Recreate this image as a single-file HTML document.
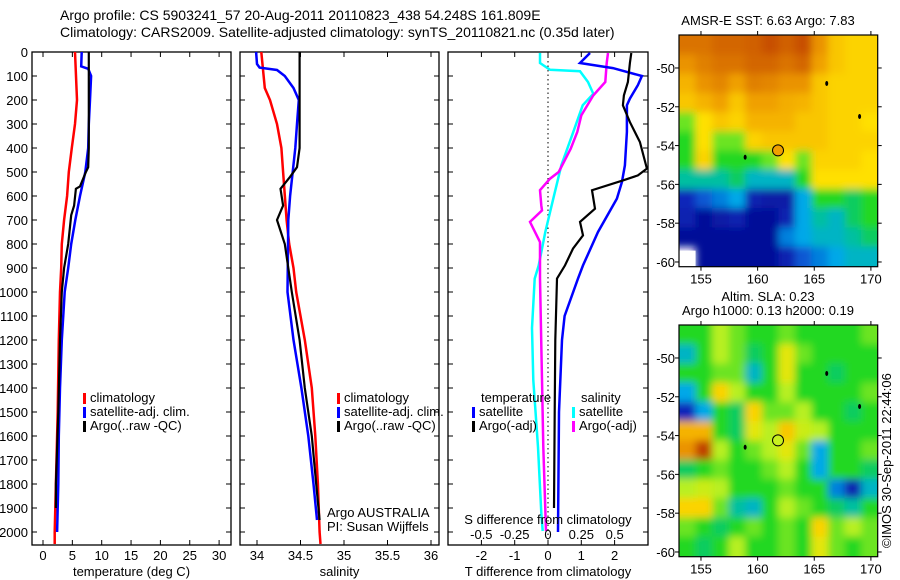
<!DOCTYPE html>
<html><head><meta charset="utf-8"><style>
html,body{margin:0;padding:0;background:#fff;}
svg{display:block;font-family:"Liberation Sans",sans-serif;}
text{font-size:13px;fill:#000;}
</style></head><body>
<svg id="fig" width="900" height="580" viewBox="0 0 900 580">
<defs>
<filter id="blur" x="-5%" y="-5%" width="110%" height="110%"><feGaussianBlur stdDeviation="4"/></filter>
<clipPath id="clipTop"><rect x="679" y="35" width="198.7" height="231.7"/></clipPath>
<clipPath id="clipBot"><rect x="679" y="325" width="198.7" height="231.7"/></clipPath>
</defs>
<text x="60" y="20" style="font-size:14px">Argo profile: CS 5903241_57 20-Aug-2011 20110823_438 54.248S 161.809E</text>
<text x="60" y="37" style="font-size:14px">Climatology: CARS2009. Satellite-adjusted climatology: synTS_20110821.nc (0.35d later)</text>
<text x="768" y="25" text-anchor="middle">AMSR-E SST: 6.63 Argo: 7.83</text>
<text x="768" y="301" text-anchor="middle">Altim. SLA: 0.23</text>
<text x="768" y="315" text-anchor="middle">Argo h1000: 0.13 h2000: 0.19</text>
<text transform="translate(891,548) rotate(-90)">©IMOS 30-Sep-2011 22:44:06</text>
<g id="g"></g>
</svg>
<script>
// ---- data ----
const depthTicks=[0,100,200,300,400,500,600,700,800,900,1000,1100,1200,1300,1400,1500,1600,1700,1800,1900,2000];
const tTicks=[0,5,10,15,20,25,30];
const sTicks=[34,34.5,35,35.5,36];
const dTTicks=[-2,-1,0,1,2];
const dSTicks=[-0.5,-0.25,0,0.25,0.5];
const dSTickLabels=["-0.5","-0.25","0","0.25","0.5"];
// temperature profiles
const tClimDepth=[0,200,300,400,500,600,700,800,900,1000,1200,1500,1800,2000,2050];
const tClimVal=[5.45,5.8,5.45,4.9,4.4,4.1,3.6,3.2,3.1,2.9,2.7,2.5,2.2,2.0,2.0];
const tSatDepth=[0,60,70,100,200,300,400,500,600,700,800,900,1000,1200,1400,1600,1800,2000];
const tSatVal=[6.6,6.5,7.7,8.2,8.0,7.8,7.7,7.2,6.3,5.5,4.8,4.3,3.7,3.2,2.9,2.7,2.6,2.4];
const tArgoDepth=[0,100,300,400,480,500,560,570,640,680,800,900,1000,1200,1500,1800,1900];
const tArgoVal=[7.8,7.8,7.8,7.8,7.7,7.3,6.3,5.6,5.3,4.8,4.3,3.6,3.2,2.9,2.6,2.2,2.2];
// salinity profiles
const sClimDepth=[0,150,200,300,400,500,700,800,900,1000,1200,1400,1600,1800,2000,2050];
const sClimVal=[34.05,34.09,34.15,34.23,34.28,34.30,34.34,34.37,34.42,34.45,34.55,34.63,34.67,34.70,34.72,34.73];
const sSatDepth=[0,50,65,75,100,150,200,300,400,500,600,700,1000,1200,1400,1600,1800,1950];
const sSatVal=[33.99,34.0,34.03,34.23,34.32,34.42,34.48,34.46,34.44,34.41,34.38,34.36,34.35,34.42,34.51,34.59,34.65,34.69];
const sArgoDepth=[0,400,480,520,570,640,700,800,1000,1200,1400,1600,1800,1950];
const sArgoVal=[34.49,34.49,34.46,34.38,34.27,34.30,34.23,34.32,34.40,34.49,34.55,34.63,34.68,34.72];
// differences
const dTSatDepth=[4,46,67,100,138,194,222,333,472,542,611,750,889,944,1100,1200,1500,2000];
const dTSatVal=[1.26,0.96,1.95,2.82,2.7,2.46,2.37,2.37,2.31,2.22,2.07,1.5,1.05,0.9,0.5,0.42,0.33,0.3];
const dTArgoDepth=[4,46,125,181,222,292,375,486,514,535,576,653,708,764,819,889,944,1200,1500,1900];
const dTArgoVal=[2.5,2.46,2.4,2.28,2.25,2.46,2.76,2.97,2.7,2.25,1.32,1.41,0.96,1.05,0.75,0.51,0.27,0.22,0.2,0.18];
const dSSatDepth=[4,46,74,80,125,174,222,333,472,542,611,750,889,944,1150,1367,1646,1921,1996];
const dSSatVal=[-0.06,-0.06,0.015,0.24,0.3,0.34,0.26,0.19,0.1,0.07,0.04,-0.02,-0.07,-0.1,-0.12,-0.11,-0.075,-0.05,-0.04];
const dSArgoDepth=[4,46,125,181,264,333,403,500,528,576,639,660,708,792,944,1367,1646,1996];
const dSArgoVal=[0.45,0.44,0.43,0.34,0.25,0.22,0.17,0.08,0.015,-0.06,-0.05,-0.045,-0.135,-0.06,-0.06,-0.045,-0.035,-0.015];
// maps
const lonTicks=[155,160,165,170];
const latTicks=[-50,-52,-54,-56,-58,-60];
const sstGrid=[
[0.85,0.85,0.87,0.87,0.88,0.9,0.88,0.9,0.8,0.72,0.7,0.7],
[0.8,0.83,0.85,0.85,0.87,0.87,0.85,0.87,0.78,0.72,0.7,0.7],
[0.75,0.8,0.82,0.78,0.83,0.82,0.8,0.8,0.72,0.7,0.7,0.7],
[0.72,0.75,0.78,0.72,0.78,0.78,0.76,0.75,0.72,0.7,0.7,0.7],
[0.55,0.68,0.72,0.7,0.75,0.75,0.75,0.72,0.72,0.7,0.7,0.68],
[0.5,0.68,0.55,0.55,0.7,0.72,0.72,0.72,0.72,0.7,0.7,0.7],
[0.5,0.7,0.5,0.5,0.5,0.55,0.68,0.55,0.7,0.7,0.7,0.68],
[0.4,0.4,0.4,0.45,0.35,0.35,0.35,0.5,0.68,0.68,0.68,0.68],
[0.12,0.2,0.25,0.3,0.1,0.08,0.08,0.3,0.5,0.5,0.45,0.5],
[0.1,0.05,0.08,0.1,0.05,0.05,0.1,0.3,0.4,0.35,0.45,0.5],
[0.05,0.05,0.05,0.05,0.05,0.05,0.25,0.3,0.35,0.35,0.4,0.45],
[null,0.05,0.05,0.05,0.05,0.05,0.1,0.2,0.25,0.3,0.35,0.35]];
const slaGrid=[
[0.5,0.5,0.6,0.55,0.5,0.5,0.55,0.5,0.5,0.5,0.5,0.55],
[0.35,0.5,0.6,0.55,0.45,0.5,0.65,0.55,0.5,0.5,0.5,0.5],
[0.5,0.5,0.55,0.55,0.35,0.5,0.65,0.5,0.5,0.45,0.5,0.5],
[0.3,0.5,0.7,0.6,0.5,0.5,0.6,0.5,0.5,0.5,0.5,0.55],
[0.12,0.3,0.5,0.45,0.7,0.55,0.55,0.6,0.5,0.5,0.45,0.5],
[0.75,0.75,0.5,0.45,0.65,0.6,0.72,0.62,0.6,0.5,0.5,0.5],
[0.8,0.92,0.6,0.5,0.55,0.6,0.65,0.55,0.3,0.5,0.5,0.55],
[0.45,0.5,0.55,0.5,0.5,0.55,0.6,0.5,0.3,0.5,0.5,0.45],
[0.6,0.62,0.6,0.5,0.5,0.5,0.55,0.5,0.5,0.25,0.1,0.35],
[0.7,0.7,0.55,0.4,0.35,0.5,0.6,0.55,0.5,0.45,0.4,0.5],
[0.55,0.5,0.45,0.5,0.55,0.5,0.55,0.5,0.7,0.55,0.6,0.55],
[0.5,0.45,0.5,0.6,0.5,0.5,0.55,0.5,0.65,0.55,0.5,0.55]];
const argoPos=[161.8,-54.25];
const islandLon=[166.1,169.0,158.9];
const islandLat=[-50.8,-52.5,-54.6];

// ---- drawing ----
const NS="http://www.w3.org/2000/svg";
const G=document.getElementById('g');
function mk(tag,attrs,parent){const e=document.createElementNS(NS,tag);for(const k in attrs)e.setAttribute(k,attrs[k]);(parent||G).appendChild(e);return e;}
function txt(x,y,s,anchor,parent){const t=mk('text',{x:x,y:y,'text-anchor':anchor||'start'},parent);t.textContent=s;return t;}
const yD=d=>52+d*0.24;
const panels=[
 {x0:32,x1:231,fx:v=>43+v*5.87,ticks:tTicks,labels:tTicks.map(String),name:'temperature-panel',title:'temperature (deg C)'},
 {x0:240,x1:439,fx:v=>257+(v-34)*87,ticks:sTicks,labels:sTicks.map(String),name:'salinity-panel',title:'salinity'},
 {x0:448,x1:648,fx:v=>548+v*33.3,ticks:dTTicks,labels:dTTicks.map(String),name:'difference-panel',title:'T difference from climatology'}];
const yTop=52,yBot=545;
panels.forEach((p,i)=>{
  const g=mk('g',{});
  
  
  const r=mk('rect',{x:p.x0,y:yTop,width:p.x1-p.x0,height:yBot-yTop,fill:'none',stroke:'#000','stroke-width':1.3},g);
  
  
  depthTicks.forEach(d=>{
    mk('line',{x1:p.x0,x2:p.x0+5,y1:yD(d),y2:yD(d),stroke:'#000'},g);
    mk('line',{x1:p.x1,x2:p.x1-5,y1:yD(d),y2:yD(d),stroke:'#000'},g);
    if(i===0){const t=txt(28,yD(d)+5,String(d),'end',g);
      
      }
  });
  p.ticks.forEach((v,j)=>{
    const x=p.fx(v);
    mk('line',{x1:x,x2:x,y1:yTop,y2:yTop+5,stroke:'#000'},g);
    mk('line',{x1:x,x2:x,y1:yBot,y2:yBot-5,stroke:'#000'},g);
    const t=txt(x,560,p.labels[j],'middle',g);
    
    
  });
  const tt=txt((p.x0+p.x1)/2,576,p.title,'middle',g);
  
  
});
function line(depths,vals,fx,color,w,name){
  const pts=depths.map((d,k)=>fx(vals[k]).toFixed(1)+','+yD(d).toFixed(1)).join(' ');
  const l=mk('polyline',{points:pts,fill:'none',stroke:color,'stroke-width':w,'stroke-linejoin':'miter'});
  
  
}
const fT=panels[0].fx,fS=panels[1].fx,fdT=panels[2].fx,fdS=v=>548+v*133.3;
const zl=mk('line',{x1:548,x2:548,y1:yTop,y2:yBot,stroke:'#000','stroke-dasharray':'1.5,3'});


line(tClimDepth,tClimVal,fT,'#ff0000',2.5,'temp-climatology-line');
line(tSatDepth,tSatVal,fT,'#0000ff',2.5,'temp-satellite-line');
line(tArgoDepth,tArgoVal,fT,'#000',2.2,'temp-argo-line');
line(sClimDepth,sClimVal,fS,'#ff0000',2.5,'sal-climatology-line');
line(sSatDepth,sSatVal,fS,'#0000ff',2.5,'sal-satellite-line');
line(sArgoDepth,sArgoVal,fS,'#000',2.2,'sal-argo-line');
line(dSSatDepth,dSSatVal,fdS,'#00ffff',2.5,'sdiff-satellite-line');
line(dSArgoDepth,dSArgoVal,fdS,'#ff00ff',2.5,'sdiff-argo-line');
line(dTSatDepth,dTSatVal,fdT,'#0000ff',2.5,'tdiff-satellite-line');
line(dTArgoDepth,dTArgoVal,fdT,'#000',2.2,'tdiff-argo-line');
dSTicks.forEach((v,j)=>{const t=txt(fdS(v),539,dSTickLabels[j],'middle');
  
  });
const sdt=txt(548,524,'S difference from climatology','middle');


function legend(x,y,items,name){
  const g=mk('g',{});
  
  
  items.forEach((it,k)=>{
    const yy=y+k*14;
    if(it[1]) mk('rect',{x:x,y:yy-9,width:3,height:11,fill:it[1]},g);
    const t=txt(x+7,yy,it[0],'start',g);
    
    
  });
}
legend(83,402,[['climatology','#f00'],['satellite-adj. clim.','#00f'],['Argo(..raw -QC)','#000']],'temp-legend');
legend(337,402,[['climatology','#f00'],['satellite-adj. clim.','#00f'],['Argo(..raw -QC)','#000']],'sal-legend');
const tl=txt(481,402,'temperature');
const sl=txt(581,402,'salinity');
legend(472,416,[['satellite','#00f'],['Argo(-adj)','#000']],'tdiff-legend');
legend(572,416,[['satellite','#0ff'],['Argo(-adj)','#f0f']],'sdiff-legend');
const a1=txt(327,517,'Argo AUSTRALIA');
const a2=txt(327,531,'PI: Susan Wijffels');

const stops=[[0,'#000080'],[0.15,'#1030c8'],[0.3,'#00a8e8'],[0.4,'#00c0a0'],[0.5,'#20d820'],[0.6,'#b8f020'],[0.68,'#ffe000'],[0.78,'#f0a000'],[0.88,'#d06000'],[1,'#a00000']];
function hex(c){return [1,3,5].map(i=>parseInt(c.substr(i,2),16));}
function cmap(v){for(let i=1;i<stops.length;i++){if(v<=stops[i][0]){const a=stops[i-1],b=stops[i];const t=(v-a[0])/(b[0]-a[0]);const ca=hex(a[1]),cb=hex(b[1]);return 'rgb('+ca.map((c,k)=>Math.round(c+(cb[k]-c)*t)).join(',')+')';}}return stops[stops.length-1][1];}
function drawMap(top,grid,name,circleFill,clipId){
  const x0=679,x1=877.7,lon0=153.06,lon1=170.6;
  const latTop=-48.3, pxPerLat=19.4, bottom=top+231.7;
  const fx=lon=>x0+(lon-lon0)*(x1-x0)/(lon1-lon0);
  const fy=lat=>top+(latTop-lat)*pxPerLat;
  const g=mk('g',{});
  
  
  const cg=mk('g',{'clip-path':'url(#'+clipId+')'},g);
  const hg=mk('g',{filter:'url(#blur)'},cg);
  const rows=grid.length,cols=grid[0].length;
  const latBot=-60.2;
  grid.forEach((row,r)=>row.forEach((v,c)=>{
    if(v===null)return;
    const la=latTop+(latBot-latTop)*r/rows, lb=latTop+(latBot-latTop)*(r+1)/rows;
    const lo=lon0+(lon1-lon0)*c/cols, lo2=lon0+(lon1-lon0)*(c+1)/cols;
    let xa=fx(lo),xb=fx(lo2),ya=fy(la),yb=fy(lb);
    if(c===0)xa-=12; if(c===cols-1)xb+=12; if(r===0)ya-=12; if(r===rows-1)yb+=12;
    const cell=mk('rect',{x:xa,y:ya,width:xb-xa+0.5,height:yb-ya+0.5,fill:cmap(v)},hg);
    
    
  }));
  // land-mask white corner on sst map
  grid.forEach((row,r)=>row.forEach((v,c)=>{
    if(v!==null)return;
    const la=latTop+(latBot-latTop)*r/rows;
    const lo2=lon0+(lon1-lon0)*(c+1)/cols;
    const w=mk('rect',{x:x0,y:fy(la)+4,width:fx(lo2)-x0,height:bottom-fy(la),fill:'#fff'},cg);
    
    
  }));
  islandLon.forEach((lo,k)=>{const d=mk('ellipse',{cx:fx(lo),cy:fy(islandLat[k]),rx:1.5,ry:2.5,fill:'#000'},g);
    });
  const c=mk('circle',{cx:fx(argoPos[0]),cy:fy(argoPos[1]),r:5.5,fill:circleFill,stroke:'#000','stroke-width':1},g);
  
  
  mk('rect',{x:x0,y:top,width:x1-x0,height:bottom-top,fill:'none',stroke:'#000','stroke-width':1.2},g);
  lonTicks.forEach(lo=>{const x=fx(lo);
    mk('line',{x1:x,x2:x,y1:top,y2:top-4,stroke:'#000'},g);
    mk('line',{x1:x,x2:x,y1:bottom,y2:bottom+4,stroke:'#000'},g);
    const t=txt(x,bottom+17,String(lo),'middle',g);
    });
  latTicks.forEach(la=>{const y=fy(la);
    mk('line',{x1:x0,x2:x0-4,y1:y,y2:y,stroke:'#000'},g);
    mk('line',{x1:x1,x2:x1+4,y1:y,y2:y,stroke:'#000'},g);
    const t=txt(675,y+5,String(la),'end',g);
    });
}
drawMap(35,sstGrid,'sst-map','#f0a000','clipTop');
drawMap(325,slaGrid,'sla-map','#c8f020','clipBot');
</script>
</body></html>
